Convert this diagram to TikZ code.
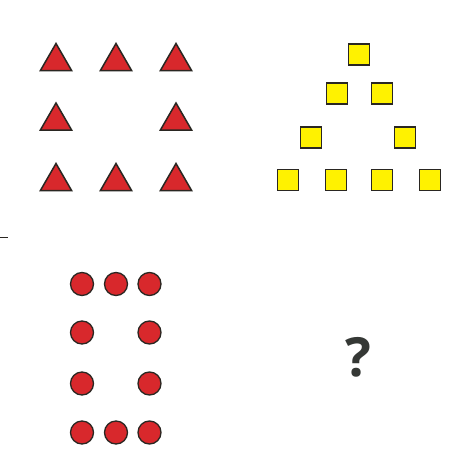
\documentclass[tikz,border=0pt]{standalone}
\usepackage{fontspec}
\newfontfamily\qfont{Open Sans}
\usetikzlibrary{shapes.geometric}
\definecolor{shapered}{HTML}{D8282C}
\definecolor{shapeyel}{HTML}{FFF200}
\definecolor{edge}{HTML}{2A2722}
\definecolor{qgray}{HTML}{353835}
\tikzset{
  tri/.style={regular polygon, regular polygon sides=3, minimum size=36pt, inner sep=0pt, fill=shapered, draw=edge, line width=1.5pt},
  sq/.style={rectangle, minimum size=21pt, inner sep=0pt, fill=shapeyel, draw=edge, line width=1.8pt},
  dot/.style={circle, minimum size=23pt, inner sep=0pt, fill=shapered, draw=edge, line width=1.3pt},
}
\begin{document}
\begin{tikzpicture}[x=1pt,y=-1pt]
\useasboundingbox[fill=white] (0,0) rectangle (474,474);
% triangles
\node[tri] (t11) at (56,61.5) {};
\node[tri] (t12) at (116,61.5) {};
\node[tri] (t13) at (176,61.5) {};
\node[tri] (t21) at (56,121) {};
\node[tri] (t23) at (176,121) {};
\node[tri] (t31) at (56,181.5) {};
\node[tri] (t32) at (116,181.5) {};
\node[tri] (t33) at (176,181.5) {};
% squares
\node[sq] (s1) at (359,54.5) {};
\node[sq] (s21) at (337,93.5) {};
\node[sq] (s22) at (382,93.5) {};
\node[sq] (s31) at (311,137.5) {};
\node[sq] (s32) at (405,137.5) {};
\node[sq] (s41) at (288,180) {};
\node[sq] (s42) at (336,180) {};
\node[sq] (s43) at (382,180) {};
\node[sq] (s44) at (430,180) {};
% circles
\node[dot] (c11) at (82,284) {};
\node[dot] (c12) at (116,284) {};
\node[dot] (c13) at (149.5,284) {};
\node[dot] (c21) at (82,332.5) {};
\node[dot] (c23) at (149.5,332.5) {};
\node[dot] (c31) at (82,383.5) {};
\node[dot] (c33) at (149.5,383.5) {};
\node[dot] (c41) at (82,432.5) {};
\node[dot] (c42) at (116,432.5) {};
\node[dot] (c43) at (149.5,432.5) {};
% dash at left
\coordinate (d1) at (0,237.3);
\coordinate (d2) at (8,237.3);
\draw[edge, line width=1.2pt] (d1) -- (d2);
% question mark
\node[text=qgray, font=\qfont\bfseries\fontsize{54}{54}\selectfont, inner sep=0pt] (q) at (358,357) {?};
\end{tikzpicture}
\end{document}
